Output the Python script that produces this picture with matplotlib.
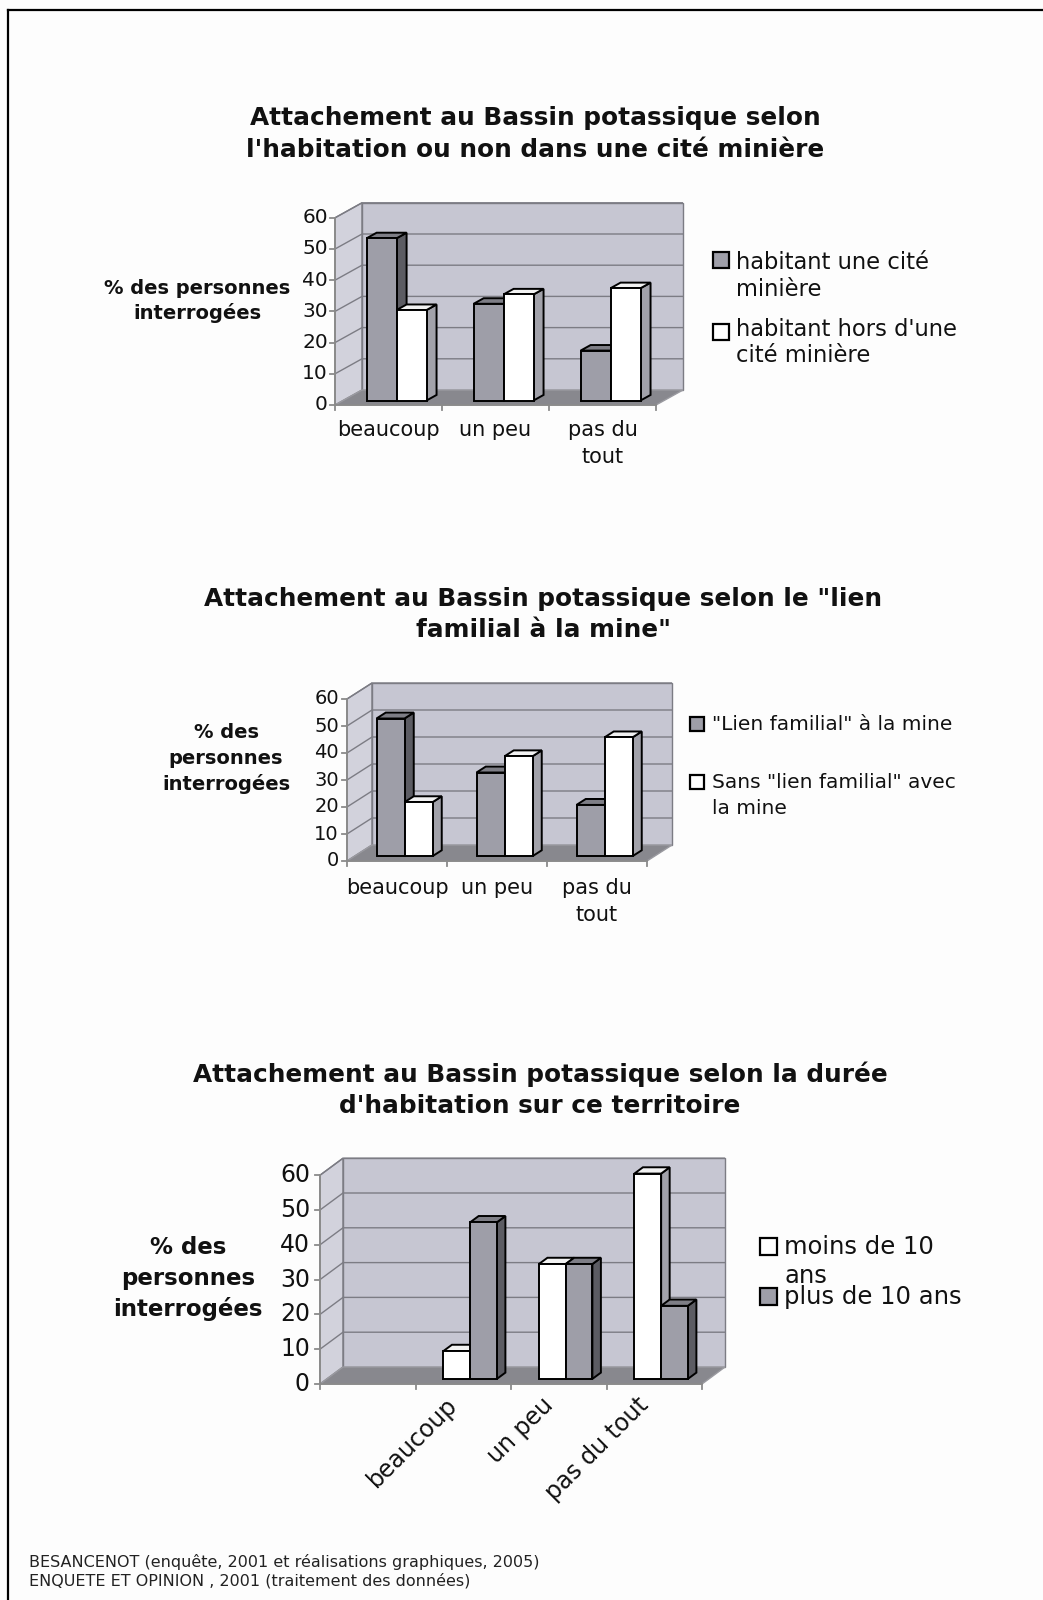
import numpy as np
import matplotlib
matplotlib.use("Agg")
import matplotlib.pyplot as plt
from matplotlib.patches import Polygon, Rectangle

W, H = 1043, 1600
plt.rcParams['font.family'] = ['DejaVu Sans']

# ---------------- data ----------------
yticks = [0, 10, 20, 30, 40, 50, 60]

title1 = ["Attachement au Bassin potassique selon",
          "l'habitation ou non dans une cité minière"]
cats1 = ["beaucoup", "un peu", "pas du\ntout"]
cite_miniere = [52, 31, 16]
hors_cite = [29, 34, 36]
legend1 = ["habitant une cité\nminière", "habitant hors d'une\ncité minière"]

title2 = ["Attachement au Bassin potassique selon le \"lien",
          "familial à la mine\""]
cats2 = ["beaucoup", "un peu", "pas du\ntout"]
lien_familial = [51, 31, 19]
sans_lien = [20, 37, 44]
legend2 = ["\"Lien familial\" à la mine", "Sans \"lien familial\" avec\nla mine"]

title3 = ["Attachement au Bassin potassique selon la durée",
          "d'habitation sur ce territoire"]
cats3 = ["", "beaucoup", "un peu", "pas du tout"]
moins_10 = [np.nan, 8, 33, 59]
plus_10 = [np.nan, 45, 33, 21]
legend3 = ["moins de 10\nans", "plus de 10 ans"]

ylabel1 = "% des personnes\ninterrogées"
ylabel2 = "% des\npersonnes\ninterrogées"
ylabel3 = "% des\npersonnes\ninterrogées"

footnote = ["BESANCENOT (enquête, 2001 et réalisations graphiques, 2005)",
            "ENQUETE ET OPINION , 2001 (traitement des données)"]

# ---------------- style ----------------
BACKWALL = '#c6c6d2'
LEFTWALL = '#d2d2dc'
FLOOR = '#88888e'
GRIDC = '#7c7c84'
AXC = '#8a8a8a'
GRAY = dict(front='#9e9ea8', top='#7e7e86', side='#5c5c63')
WHITE = dict(front='#ffffff', top='#f2f2f2', side='#a2a2aa')

fig = plt.figure(figsize=(W / 100, H / 100), dpi=100)
fig.patch.set_facecolor('#fdfdfd')


def fx(px):
    return px / W


def fy(py):
    return 1 - py / H


def poly(ax, pts, **kw):
    p = Polygon(pts, closed=True, clip_on=False, **kw)
    ax.add_patch(p)
    return p


def chart(cats, series, x0, cw, py0, ppu, dxp, dyp, tick_fs, tick_gap,
          cat_fs, cat_gap=14, rotated=False, w=0.28, z0=0.3, z1=0.67):
    n = len(cats)
    left = x0 - cw
    right = x0 + (n + 1) * cw
    bottom_px = py0 + 20 * ppu
    top_px = py0 - 75 * ppu
    ax = fig.add_axes([fx(left), fy(bottom_px), (right - left) / W,
                       (bottom_px - top_px) / H])
    ax.set_xlim(-1, n + 1)
    ax.set_ylim(-20, 75)
    ax.axis('off')
    DX = dxp / cw
    DY = dyp / ppu
    ymax = yticks[-1]

    def P(x, y, z):
        return (x + z * DX, y + z * DY)

    # walls
    poly(ax, [(0, 0), (0, ymax), (DX, ymax + DY), (DX, DY)],
         fc=LEFTWALL, ec=GRIDC, lw=1.0, zorder=1)
    poly(ax, [(DX, DY), (n + DX, DY), (n + DX, ymax + DY), (DX, ymax + DY)],
         fc=BACKWALL, ec=GRIDC, lw=1.0, zorder=1)
    for v in yticks[1:]:
        ax.plot([0, DX, n + DX], [v, v + DY, v + DY], color=GRIDC, lw=1.0,
                zorder=2, clip_on=False, solid_capstyle='butt')
    # floor
    poly(ax, [(0, 0), (n, 0), (n + DX, DY), (DX, DY)],
         fc=FLOOR, ec='#9a9aa0', lw=1.0, zorder=3)
    # axes lines & ticks
    ax.plot([0, 0], [0, ymax], color=AXC, lw=1.3, zorder=4, clip_on=False)
    ax.plot([0, n], [0, 0], color=AXC, lw=1.3, zorder=4, clip_on=False)
    tx = 5 / cw
    ty = 5 / ppu
    for v in yticks:
        ax.plot([-tx, 0], [v, v], color=AXC, lw=1.3, zorder=4, clip_on=False)
        ax.text(-tick_gap / cw, v, str(v), ha='right', va='center',
                fontsize=tick_fs, color='#111111')
    for i in range(n + 1):
        ax.plot([i, i], [0, -ty], color=AXC, lw=1.3, zorder=4, clip_on=False)
    # bars
    z = 10
    for i in range(n):
        for j, (vals, st) in enumerate(series):
            v = vals[i]
            if np.isnan(v):
                continue
            xl = i + 0.5 - w + j * w
            xr = xl + w
            kw = dict(ec='black', lw=1.4, joinstyle='miter')
            poly(ax, [P(xr, 0, z0), P(xr, 0, z1), P(xr, v, z1), P(xr, v, z0)],
                 fc=st['side'], zorder=z, **kw)
            poly(ax, [P(xl, v, z0), P(xr, v, z0), P(xr, v, z1), P(xl, v, z1)],
                 fc=st['top'], zorder=z, **kw)
            poly(ax, [P(xl, 0, z0), P(xr, 0, z0), P(xr, v, z0), P(xl, v, z0)],
                 fc=st['front'], zorder=z + 1, **kw)
            z += 2
    # category labels
    for i, c in enumerate(cats):
        if not c:
            continue
        if rotated:
            ax.text(i + 0.5 - 18 / cw, -9 / ppu, c, ha='right', va='top',
                    rotation=45, rotation_mode='anchor', fontsize=cat_fs,
                    color='#111111')
        else:
            ax.text(i + 0.5, -cat_gap / ppu, c, ha='center', va='top',
                    fontsize=cat_fs, linespacing=1.45, color='#111111')
    return ax


def legend_item(xsq, ysq, size, st, tx, baseline, text, fs, lsp):
    fig.patches.append(Rectangle((fx(xsq), fy(ysq + size)), size / W, size / H,
                                 transform=fig.transFigure, fc=st['front'],
                                 ec='black', lw=1.6, figure=fig))
    lines = text.split("\n")
    for k, ln in enumerate(lines):
        fig.text(fx(tx), fy(baseline + k * lsp), ln, ha='left', va='baseline',
                 fontsize=fs, color='#111111')


def title(lines, cx, ys, fs=17.8):
    for ln, y in zip(lines, ys):
        fig.text(fx(cx), fy(y), ln, ha='center', va='center', fontsize=fs,
                 fontweight='bold', color='#111111')


def ylab(text, cx, ys, fs):
    for ln, y in zip(text.split("\n"), ys):
        fig.text(fx(cx), fy(y), ln, ha='center', va='center', fontsize=fs,
                 fontweight='bold', color='#111111')


# ---------------- chart 1 ----------------
title(title1, 535, [118, 150])
chart(cats1, [(cite_miniere, GRAY), (hors_cite, WHITE)],
      x0=335, cw=107, py0=405, ppu=3.12, dxp=27, dyp=15,
      tick_fs=14.5, tick_gap=7, cat_fs=15, cat_gap=15)
ylab(ylabel1, 197, [288, 313], 14)
legend_item(713, 252, 16, GRAY, 736, 269, legend1[0], 16.3, 27)
legend_item(713, 324, 16, WHITE, 736, 336, legend1[1], 16.3, 26)

# ---------------- chart 2 ----------------
title(title2, 543, [599, 630])
chart(cats2, [(lien_familial, GRAY), (sans_lien, WHITE)],
      x0=347, cw=100, py0=861, ppu=2.70, dxp=25, dyp=16,
      tick_fs=14, tick_gap=8, cat_fs=15, cat_gap=17)
ylab(ylabel2, 226, [732, 758, 784], 14)
legend_item(690, 717, 14, GRAY, 712, 730, legend2[0], 14.5, 26)
legend_item(690, 775, 14, WHITE, 712, 788, legend2[1], 14.5, 26)

# ---------------- chart 3 ----------------
title(title3, 540, [1074, 1106])
chart(cats3, [(moins_10, WHITE), (plus_10, GRAY)],
      x0=320, cw=95.5, py0=1384, ppu=3.48, dxp=23, dyp=17,
      tick_fs=17, tick_gap=10, cat_fs=17, rotated=True)
ylab(ylabel3, 188, [1247, 1278, 1309], 16.5)
legend_item(760, 1238, 17, WHITE, 784, 1254, legend3[0], 17.5, 29)
legend_item(760, 1288, 17, GRAY, 784, 1304, legend3[1], 17.5, 29)

# ---------------- footnote & frame ----------------
for k, ln in enumerate(footnote):
    fig.text(fx(29), fy(1567 + k * 18), ln, ha='left', va='baseline',
             fontsize=11.5, color='#222222')

fig.lines.append(plt.Line2D([fx(8), fx(8)], [fy(10), fy(1600)],
                            transform=fig.transFigure, color='black', lw=1.6))
fig.lines.append(plt.Line2D([fx(8), fx(1043)], [fy(10), fy(10)],
                            transform=fig.transFigure, color='black', lw=1.6))

fig.savefig("out.png", dpi=100, facecolor=fig.get_facecolor())
